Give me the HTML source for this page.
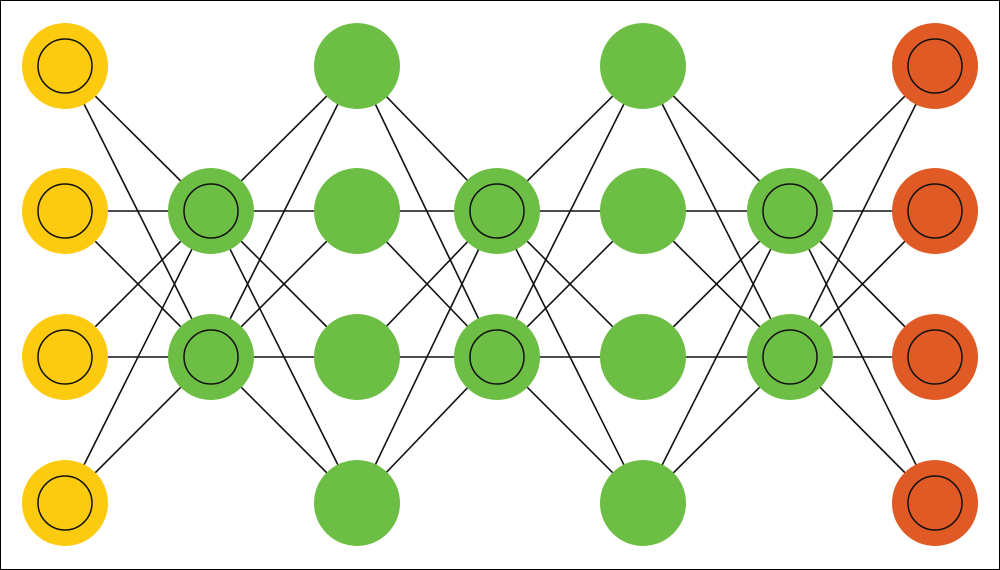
<!DOCTYPE html>
<html><head><style>
html,body{margin:0;padding:0;background:#fff}
svg{display:block}
</style></head><body>
<svg width="1000" height="570" viewBox="0 0 1000 570">
<rect x="0.5" y="0.5" width="999" height="569" fill="#fff" stroke="#000"/>
<g stroke="#111" stroke-width="1.6">
<!-- A-B -->
<line x1="65" y1="66" x2="211" y2="211"/><line x1="65" y1="66" x2="211" y2="357"/>
<line x1="65" y1="211" x2="211" y2="211"/><line x1="65" y1="211" x2="211" y2="357"/>
<line x1="65" y1="357" x2="211" y2="211"/><line x1="65" y1="357" x2="211" y2="357"/>
<line x1="65" y1="503" x2="211" y2="211"/><line x1="65" y1="503" x2="211" y2="357"/>
<!-- B-C -->
<line x1="211" y1="211" x2="357" y2="66"/><line x1="211" y1="357" x2="357" y2="66"/>
<line x1="211" y1="211" x2="357" y2="211"/><line x1="211" y1="357" x2="357" y2="211"/>
<line x1="211" y1="211" x2="357" y2="357"/><line x1="211" y1="357" x2="357" y2="357"/>
<line x1="211" y1="211" x2="357" y2="503"/><line x1="211" y1="357" x2="357" y2="503"/>
<!-- C-D -->
<line x1="357" y1="66" x2="497" y2="211"/><line x1="357" y1="66" x2="497" y2="357"/>
<line x1="357" y1="211" x2="497" y2="211"/><line x1="357" y1="211" x2="497" y2="357"/>
<line x1="357" y1="357" x2="497" y2="211"/><line x1="357" y1="357" x2="497" y2="357"/>
<line x1="357" y1="503" x2="497" y2="211"/><line x1="357" y1="503" x2="497" y2="357"/>
<!-- D-E -->
<line x1="497" y1="211" x2="643" y2="66"/><line x1="497" y1="357" x2="643" y2="66"/>
<line x1="497" y1="211" x2="643" y2="211"/><line x1="497" y1="357" x2="643" y2="211"/>
<line x1="497" y1="211" x2="643" y2="357"/><line x1="497" y1="357" x2="643" y2="357"/>
<line x1="497" y1="211" x2="643" y2="503"/><line x1="497" y1="357" x2="643" y2="503"/>
<!-- E-F -->
<line x1="643" y1="66" x2="790" y2="211"/><line x1="643" y1="66" x2="790" y2="357"/>
<line x1="643" y1="211" x2="790" y2="211"/><line x1="643" y1="211" x2="790" y2="357"/>
<line x1="643" y1="357" x2="790" y2="211"/><line x1="643" y1="357" x2="790" y2="357"/>
<line x1="643" y1="503" x2="790" y2="211"/><line x1="643" y1="503" x2="790" y2="357"/>
<!-- F-G -->
<line x1="790" y1="211" x2="935" y2="66"/><line x1="790" y1="357" x2="935" y2="66"/>
<line x1="790" y1="211" x2="935" y2="211"/><line x1="790" y1="357" x2="935" y2="211"/>
<line x1="790" y1="211" x2="935" y2="357"/><line x1="790" y1="357" x2="935" y2="357"/>
<line x1="790" y1="211" x2="935" y2="503"/><line x1="790" y1="357" x2="935" y2="503"/>
</g>
<g fill="#FCCB10">
<circle cx="65" cy="66" r="43"/><circle cx="65" cy="211" r="43"/><circle cx="65" cy="357" r="43"/><circle cx="65" cy="503" r="43"/>
</g>
<g fill="#6DBE45">
<circle cx="211" cy="211" r="43"/><circle cx="211" cy="357" r="43"/>
<circle cx="357" cy="66" r="43"/><circle cx="357" cy="211" r="43"/><circle cx="357" cy="357" r="43"/><circle cx="357" cy="503" r="43"/>
<circle cx="497" cy="211" r="43"/><circle cx="497" cy="357" r="43"/>
<circle cx="643" cy="66" r="43"/><circle cx="643" cy="211" r="43"/><circle cx="643" cy="357" r="43"/><circle cx="643" cy="503" r="43"/>
<circle cx="790" cy="211" r="43"/><circle cx="790" cy="357" r="43"/>
</g>
<g fill="#E05A26">
<circle cx="935" cy="66" r="43"/><circle cx="935" cy="211" r="43"/><circle cx="935" cy="357" r="43"/><circle cx="935" cy="503" r="43"/>
</g>
<g fill="none" stroke="#111" stroke-width="1.5">
<circle cx="65" cy="66" r="27"/><circle cx="65" cy="211" r="27"/><circle cx="65" cy="357" r="27"/><circle cx="65" cy="503" r="27"/>
<circle cx="211" cy="211" r="27"/><circle cx="211" cy="357" r="27"/>
<circle cx="497" cy="211" r="27"/><circle cx="497" cy="357" r="27"/>
<circle cx="790" cy="211" r="27"/><circle cx="790" cy="357" r="27"/>
<circle cx="935" cy="66" r="27"/><circle cx="935" cy="211" r="27"/><circle cx="935" cy="357" r="27"/><circle cx="935" cy="503" r="27"/>
</g>
</svg>
</body></html>
